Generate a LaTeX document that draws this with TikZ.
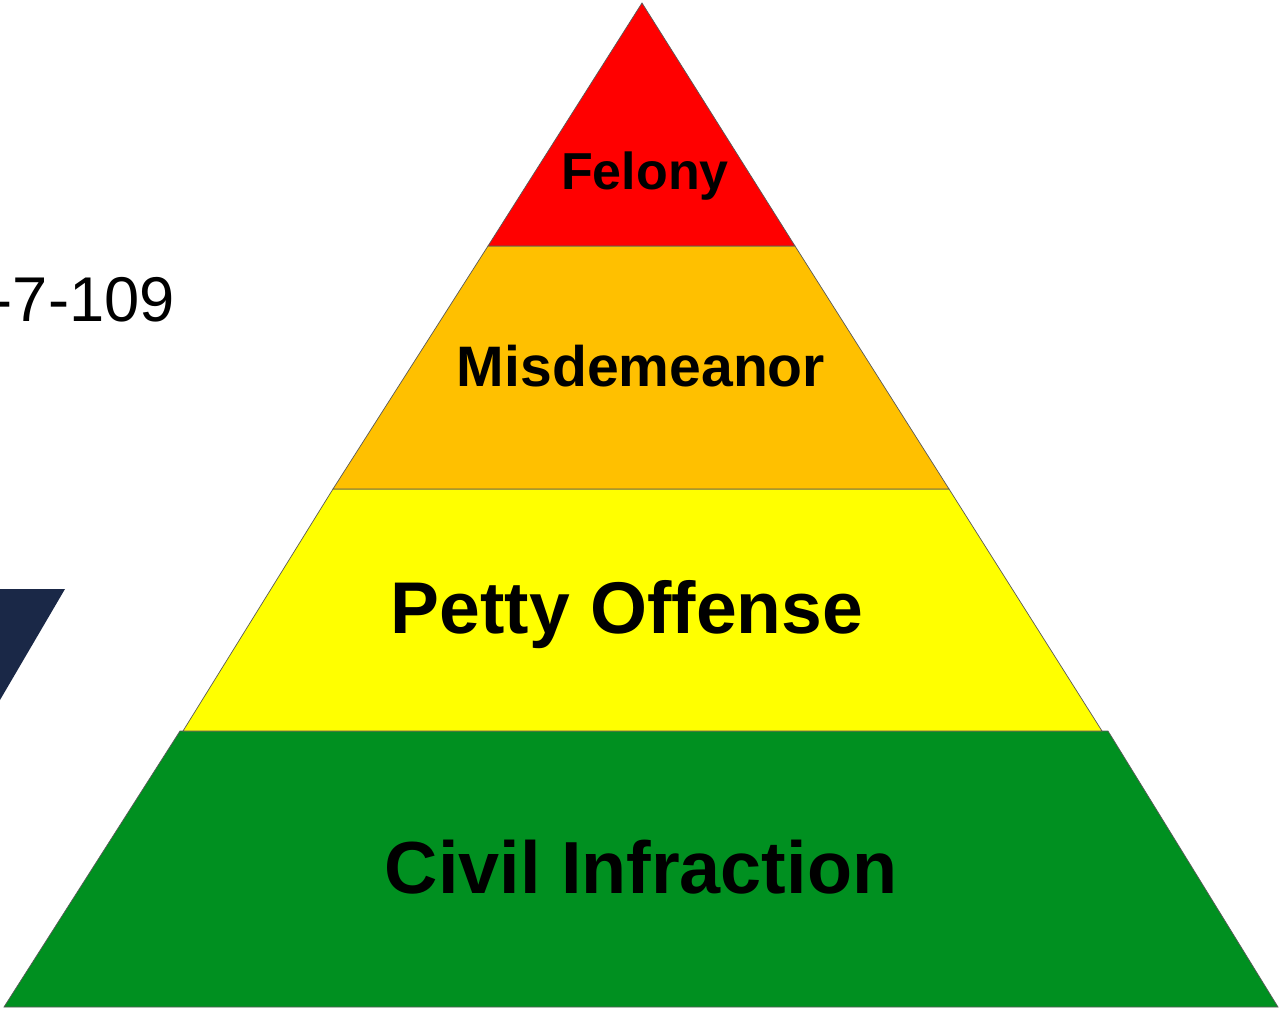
\documentclass[tikz,border=0pt]{standalone}
\usepackage{fontspec}
\setmainfont{Liberation Sans}
\definecolor{felonyred}{HTML}{FF0000}
\definecolor{misdorange}{HTML}{FFC000}
\definecolor{pettyyellow}{HTML}{FFFF00}
\definecolor{civilgreen}{HTML}{009020}
\definecolor{slidenavy}{HTML}{1A2847}

\begin{document}
\begin{tikzpicture}[x=0.02cm,y=-0.02cm,
  tier/.style={draw=gray!70!black,line width=0.4pt},
  tiertext/.style={anchor=base,font=\bfseries\fontsize{#1}{#1}\selectfont}]
\useasboundingbox (0,0) rectangle (1279,1010);
\clip (0,0) rectangle (1279,1010);

% pieces of the slide behind
\fill[slidenavy] (0,589) -- (65,589) -- (0,700) -- cycle;
\node[anchor=base east,inner sep=0pt,font=\fontsize{36}{36}\selectfont] (statute) at (175,322) {-7-109};

% the pyramid, bottom up
\filldraw[tier,fill=civilgreen] (180,731) -- (1108,731) -- (1278,1007) -- (4,1007) -- cycle;
\filldraw[tier,fill=pettyyellow] (333,489) -- (949,489) -- (1102,731) -- (183,731) -- cycle;
\filldraw[tier,fill=misdorange] (488,246) -- (795,246) -- (949,489) -- (333,489) -- cycle;
\filldraw[tier,fill=felonyred] (642,3) -- (795,246) -- (488,246) -- cycle;

\node[tiertext=29.6] (felony) at (645,190) {Felony};
\node[tiertext=32.5] (misdemeanor) at (641,387) {Misdemeanor};
\node[tiertext=41.7] (petty) at (627,633) {Petty Offense};
\node[tiertext=42] (civil) at (641,893) {Civil Infraction};
\end{tikzpicture}
\end{document}
